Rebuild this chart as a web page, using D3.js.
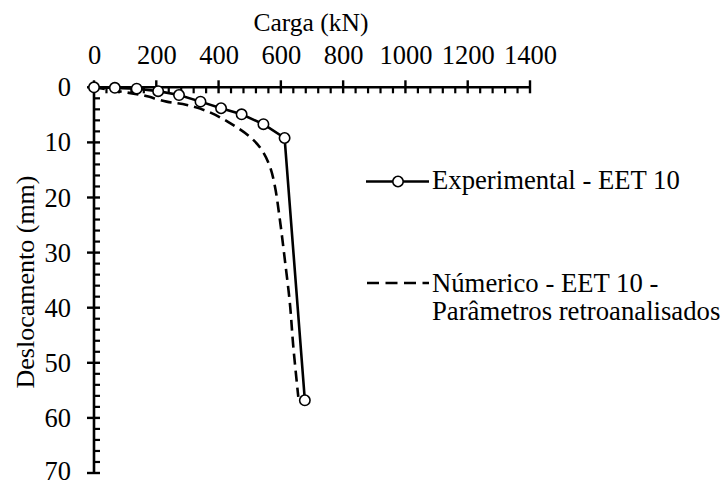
<!DOCTYPE html>
<html>
<head>
<meta charset="utf-8">
<script src="https://cdn.jsdelivr.net/npm/d3@7"></script>
<style>
  html, body { margin: 0; padding: 0; background: #fff; }
  svg { display: block; }
</style>
</head>
<body>
<svg id="chart" width="721" height="484"></svg>
<script>
// ---- data ----
const expLoad = [0, 67, 137, 206, 273, 342, 408, 474, 544, 612, 677];
const expDisp = [0, 0.1, 0.25, 0.7, 1.4, 2.6, 3.8, 4.9, 6.7, 9.2, 56.8];

const numLoad = [0, 77, 153, 233, 298, 366, 437, 501, 539, 565, 581, 597, 613, 629, 640, 656];
const numDisp = [0, 0.7, 1.4, 2.6, 3.2, 4.4, 6.5, 9.0, 11.4, 14.4, 18.0, 24.1, 31.4, 39.2, 47.1, 56.2];

const xTicks = [0, 200, 400, 600, 800, 1000, 1200, 1400];
const yTicks = [0, 10, 20, 30, 40, 50, 60, 70];
const xTitle = "Carga (kN)";
const yTitle = "Deslocamento (mm)";
const seriesNames = ["Experimental - EET 10", "Númerico - EET 10 -", "Parâmetros retroanalisados"];

// ---- layout ----
const FONT = "Liberation Serif";
const svg = d3.select("#chart");
const x = d3.scaleLinear().domain([0, 1400]).range([94, 530]);
const y = d3.scaleLinear().domain([0, 70]).range([87.3, 473]);

const xMinor = d3.range(0, 1400.1, 40).filter(v => v % 200 !== 0);
const yMinor = d3.range(0, 70.1, 2).filter(v => v % 10 !== 0);

const axisW = 2.6;

// minor ticks (inward)
svg.append("g").selectAll("line").data(xMinor).join("line")
  .attr("x1", d => x(d)).attr("x2", d => x(d))
  .attr("y1", y(0)).attr("y2", y(0) + 6)
  .attr("stroke", "#000").attr("stroke-width", 2.2);
svg.append("g").selectAll("line").data(yMinor).join("line")
  .attr("y1", d => y(d)).attr("y2", d => y(d))
  .attr("x1", x(0)).attr("x2", x(0) + 6)
  .attr("stroke", "#000").attr("stroke-width", 2.2);

// major ticks (crossing)
svg.append("g").selectAll("line").data(xTicks).join("line")
  .attr("x1", d => x(d)).attr("x2", d => x(d))
  .attr("y1", y(0) - 7).attr("y2", y(0) + 6)
  .attr("stroke", "#000").attr("stroke-width", 2.4);
svg.append("g").selectAll("line").data(yTicks).join("line")
  .attr("y1", d => y(d)).attr("y2", d => y(d))
  .attr("x1", x(0) - 7).attr("x2", x(0) + 6)
  .attr("stroke", "#000").attr("stroke-width", 2.4);

// axis lines
svg.append("line").attr("x1", x(0)).attr("x2", x(1400)).attr("y1", y(0)).attr("y2", y(0))
  .attr("stroke", "#000").attr("stroke-width", axisW);
svg.append("line").attr("x1", x(0)).attr("x2", x(0)).attr("y1", y(0)).attr("y2", y(70))
  .attr("stroke", "#000").attr("stroke-width", axisW);

// tick labels
svg.append("g").selectAll("text").data(xTicks).join("text")
  .attr("x", d => x(d) + 0.5).attr("y", 63.5)
  .attr("text-anchor", "middle").attr("font-size", 26.5).attr("font-family", FONT)
  .text(d => d);
svg.append("g").selectAll("text").data(yTicks).join("text")
  .attr("x", 71).attr("y", d => Math.min(y(d) + 9, 480))
  .attr("text-anchor", "end").attr("font-size", 26.5).attr("font-family", FONT)
  .text(d => d);

// titles
svg.append("text").attr("x", 311).attr("y", 31).attr("text-anchor", "middle")
  .attr("font-size", 25.5).attr("font-family", FONT).text(xTitle);
svg.append("text").attr("transform", "translate(34,282) rotate(-90)")
  .attr("text-anchor", "middle").attr("font-size", 26).attr("font-family", FONT).text(yTitle);

// series
const numData = numLoad.map((v, i) => [v, numDisp[i]]);
const expData = expLoad.map((v, i) => [v, expDisp[i]]);

svg.append("path").datum(numData)
  .attr("d", d3.line().x(d => x(d[0])).y(d => y(d[1])).curve(d3.curveCatmullRom))
  .attr("fill", "none").attr("stroke", "#000").attr("stroke-width", 2.6)
  .attr("stroke-dasharray", "11,6");

svg.append("path").datum(expData)
  .attr("d", d3.line().x(d => x(d[0])).y(d => y(d[1])))
  .attr("fill", "none").attr("stroke", "#000").attr("stroke-width", 2.6);

svg.append("g").selectAll("circle").data(expData).join("circle")
  .attr("cx", d => x(d[0])).attr("cy", d => y(d[1])).attr("r", 5.2)
  .attr("fill", "#fff").attr("stroke", "#000").attr("stroke-width", 1.6);

// legend
const lg = svg.append("g");
lg.append("line").attr("x1", 366).attr("x2", 429).attr("y1", 181.5).attr("y2", 181.5)
  .attr("stroke", "#000").attr("stroke-width", 2.6);
lg.append("circle").attr("cx", 398).attr("cy", 181.5).attr("r", 5.2)
  .attr("fill", "#fff").attr("stroke", "#000").attr("stroke-width", 1.6);
lg.append("text").attr("x", 432).attr("y", 189).attr("font-size", 26.7).attr("font-family", FONT)
  .text(seriesNames[0]);

lg.append("line").attr("x1", 367).attr("x2", 429).attr("y1", 283).attr("y2", 283)
  .attr("stroke", "#000").attr("stroke-width", 2.6).attr("stroke-dasharray", "12,6.5");
lg.append("text").attr("x", 432).attr("y", 291.5).attr("font-size", 26.7).attr("font-family", FONT)
  .text(seriesNames[1]);
lg.append("text").attr("x", 432).attr("y", 320).attr("font-size", 26.7).attr("font-family", FONT)
  .text(seriesNames[2]);
</script>
</body>
</html>
